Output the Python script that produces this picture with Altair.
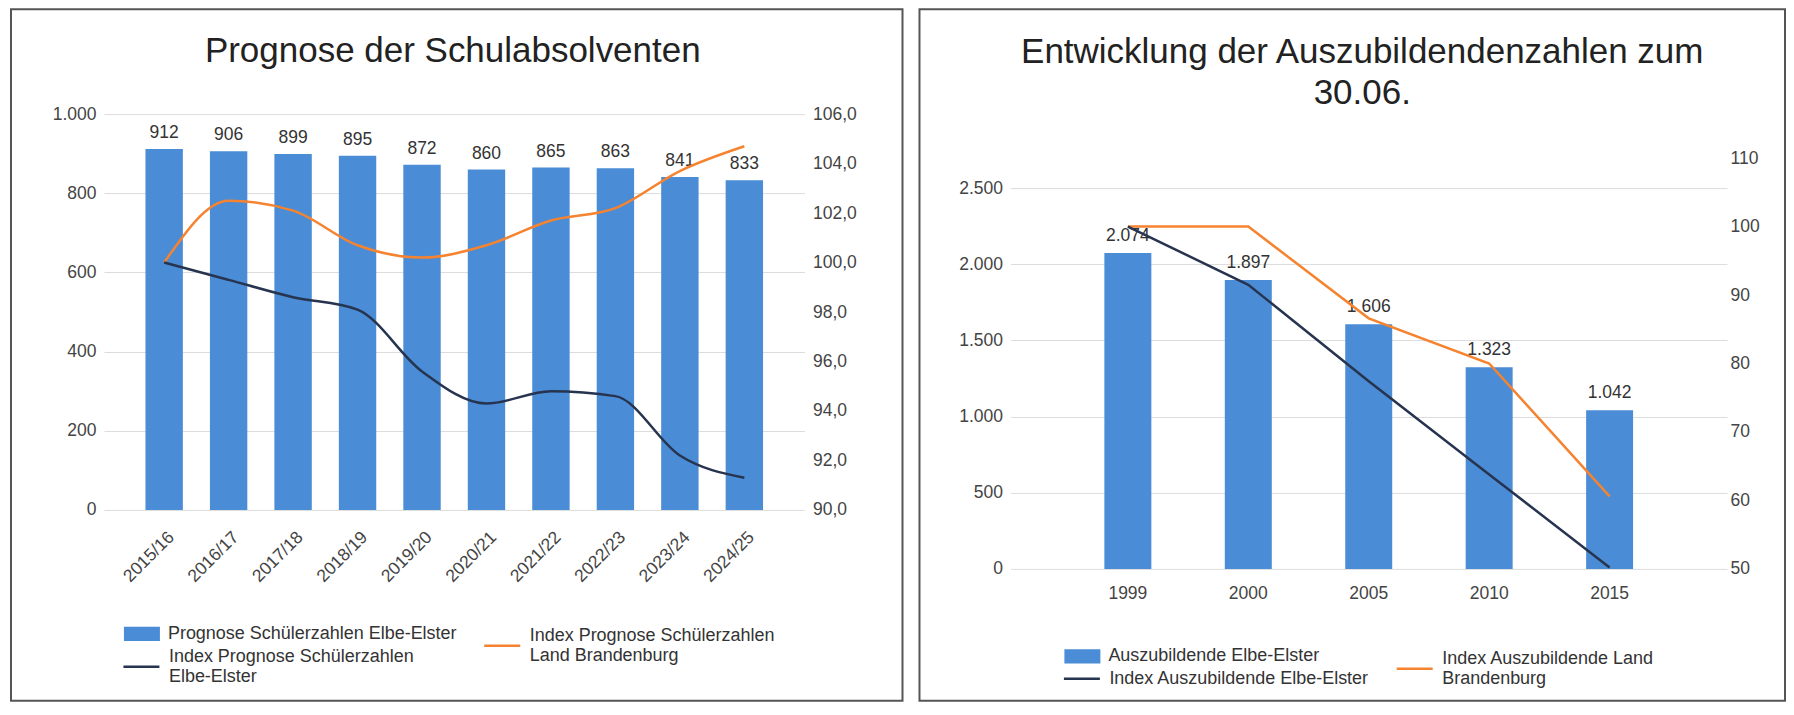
import json
import altair as alt
import pandas as pd

FONT = "Liberation Sans"

# ---------------- data: left panel ----------------
school_years = ["2015/16", "2016/17", "2017/18", "2018/19", "2019/20",
                "2020/21", "2021/22", "2022/23", "2023/24", "2024/25"]
pupils_ee = [912, 906, 899, 895, 872, 860, 865, 863, 841, 833]
index_pupils_ee = [100.0, 99.3, 98.6, 98.1, 95.6, 94.3, 94.8, 94.6, 92.2, 91.3]
index_pupils_bb = [100.0, 102.5, 102.1, 100.7, 100.2, 100.7, 101.7, 102.2, 103.7, 104.7]
left_series = ["Prognose Schülerzahlen Elbe-Elster",
               "Index Prognose Schülerzahlen Land Brandenburg",
               "Index Prognose Schülerzahlen Elbe-Elster"]
left_series_lines = [["Prognose Schülerzahlen Elbe-Elster"],
                     ["Index Prognose Schülerzahlen", "Land Brandenburg"],
                     ["Index Prognose Schülerzahlen", "Elbe-Elster"]]
left_title = "Prognose der Schulabsolventen"
left_y_ticks = [0, 200, 400, 600, 800, 1000]
left_y2_ticks = [90, 92, 94, 96, 98, 100, 102, 104, 106]

# ---------------- data: right panel ----------------
years = ["1999", "2000", "2005", "2010", "2015"]
trainees_ee = [2074, 1897, 1606, 1323, 1042]
index_trainees_ee = [100.0, 91.5, 77.4, 63.8, 50.2]
index_trainees_bb = [100.0, 100.0, 86.6, 80.0, 60.6]
right_series = ["Auszubildende Elbe-Elster",
                "Index Auszubildende Land Brandenburg",
                "Index Auszubildende Elbe-Elster"]
right_series_lines = [["Auszubildende Elbe-Elster"],
                      ["Index Auszubildende Land", "Brandenburg"],
                      ["Index Auszubildende Elbe-Elster"]]
right_title = ["Entwicklung der Auszubildendenzahlen zum", "30.06."]
right_y_ticks = [0, 500, 1000, 1500, 2000, 2500]
right_y2_ticks = [50, 60, 70, 80, 90, 100, 110]

# ---------------- style ----------------
BLUE, ORANGE, NAVY = "#4a8cd6", "#f5832f", "#27344f"
RECT_PATH = "M-1,-0.4L1,-0.4L1,0.4L-1,0.4Z"
LINE_PATH_2 = "M-1,0.556L1,0.556"   # line symbol centred on a two-line label
AXIS_COLOR = "#444444"


def q(s):
    return json.dumps(s, ensure_ascii=False)


def make_legend(name, lines, x, y, shape, stroke_width):
    kw = dict(
        orient="none", legendX=x, legendY=y, title=None, padding=0,
        labelFont=FONT, labelFontSize=18, labelColor="#333333", labelLimit=600,
        labelOffset=8, symbolSize=1296, symbolType=shape, symbolStrokeWidth=stroke_width,
    )
    if len(lines) > 1:
        kw["labelExpr"] = f"datum.label === {q(name)} ? {q(lines)} : datum.label"
    return alt.Legend(**kw)


def line_shape(lines):
    return LINE_PATH_2 if len(lines) > 1 else "stroke"


def panel(cats, bar_vals, idx_ee, idx_bb, series, series_lines, title, *,
          width, height, x_range, pad_inner, pad_outer, x_axis,
          y_domain, y_ticks, y_range, y_fmt, y_offset,
          y2_domain, y2_ticks, y2_range, y2_fmt, y2_offset, y2_pad,
          label_fmt, label_dy, legend_pos, title_dx, title_offset, interpolate):
    n = len(cats)
    bars_df = pd.DataFrame({"cat": cats, "value": bar_vals, "series": [series[0]] * n})
    bb_df = pd.DataFrame({"cat": cats, "value": idx_bb, "series": [series[1]] * n})
    ee_df = pd.DataFrame({"cat": cats, "value": idx_ee, "series": [series[2]] * n})

    (bx, by), (ox, oy), (dx_, dy_) = legend_pos
    fill = alt.Fill("series:N", scale=alt.Scale(domain=[series[0]], range=[BLUE]),
                    legend=make_legend(series[0], series_lines[0], bx, by, RECT_PATH, 0))
    stroke_bb = alt.Stroke("series:N", scale=alt.Scale(domain=[series[1]], range=[ORANGE]),
                           legend=make_legend(series[1], series_lines[1], ox, oy,
                                              line_shape(series_lines[1]), 2.5))
    color_ee = alt.Color("series:N", scale=alt.Scale(domain=[series[2]], range=[NAVY]),
                         legend=make_legend(series[2], series_lines[2], dx_, dy_,
                                            line_shape(series_lines[2]), 2.5))

    x = alt.X("cat:N", sort=list(cats), title=None,
              scale=alt.Scale(range=x_range, paddingInner=pad_inner, paddingOuter=pad_outer),
              axis=x_axis)

    y = alt.Y("value:Q", title=None,
              scale=alt.Scale(domain=y_domain, range=y_range, nice=False, zero=False),
              axis=alt.Axis(values=y_ticks, format=y_fmt, offset=y_offset, labelPadding=8,
                            domain=False, ticks=False, grid=True, gridColor="#dcdcdc", gridWidth=1,
                            labelFont=FONT, labelFontSize=17.5, labelColor=AXIS_COLOR))
    y2 = alt.Y("value:Q", title=None,
               scale=alt.Scale(domain=y2_domain, range=y2_range, nice=False, zero=False),
               axis=alt.Axis(orient="right", values=y2_ticks, format=y2_fmt, offset=y2_offset,
                             labelPadding=y2_pad, domain=False, ticks=False, grid=False,
                             labelFont=FONT, labelFontSize=17.5, labelColor=AXIS_COLOR))

    bars = alt.Chart(bars_df).mark_bar().encode(x=x, y=y, fill=fill)
    labels = alt.Chart(bars_df).mark_text(
        baseline="alphabetic", dy=label_dy, font=FONT, fontSize=17.5, color="#333333"
    ).encode(x=x, y=y, text=alt.Text("value:Q", format=label_fmt))
    line_bb = alt.Chart(bb_df).mark_line(strokeWidth=2.5, interpolate=interpolate).encode(
        x=x, y=y2, stroke=stroke_bb)
    line_ee = alt.Chart(ee_df).mark_line(strokeWidth=2.5, interpolate=interpolate).encode(
        x=x, y=y2, color=color_ee)

    bar_part = alt.layer(bars, labels)
    line_part = alt.layer(line_bb, line_ee)
    return alt.layer(bar_part, line_part).resolve_scale(y="independent").properties(
        width=width, height=height,
        title=alt.TitleParams(text=title, font=FONT, fontSize=35, fontWeight="normal",
                              color="#222222", anchor="middle", frame="group",
                              offset=title_offset, baseline="alphabetic", dx=title_dx, lineHeight=41),
    )


H = 692

left = panel(
    school_years, pupils_ee, index_pupils_ee, index_pupils_bb, left_series, left_series_lines, left_title,
    width=892, height=H, x_range=[93, 794], pad_inner=0.42, pad_outer=0.644,
    x_axis=alt.Axis(labelAngle=-45, labelAlign="right", labelBaseline="top", labelOffset=1,
                    labelPadding=18, offset=501 - H, domain=False, ticks=False, grid=False,
                    labelFont=FONT, labelFontSize=17.5, labelColor=AXIS_COLOR),
    y_domain=[0, 1000], y_ticks=left_y_ticks, y_range=[501, 105], y_fmt=",d", y_offset=-93,
    y2_domain=[90, 106], y2_ticks=left_y2_ticks, y2_range=[501, 105], y2_fmt=".1f",
    y2_offset=794 - 892, y2_pad=8,
    label_fmt=",d", label_dy=-11,
    legend_pos=[(113, 607), (472, 607.5), (111, 628.5)],
    title_dx=-4, title_offset=-88, interpolate="monotone",
)

right = panel(
    years, trainees_ee, index_trainees_ee, index_trainees_bb, right_series, right_series_lines, right_title,
    width=866, height=H, x_range=[91, 808], pad_inner=0.61, pad_outer=0.78,
    x_axis=alt.Axis(labelAngle=0, labelPadding=16, offset=560 - H, domain=False, ticks=False, grid=False,
                    labelFont=FONT, labelFontSize=17.5, labelColor=AXIS_COLOR),
    y_domain=[0, 2500], y_ticks=right_y_ticks, y_range=[560, 179], y_fmt=",d", y_offset=-91,
    y2_domain=[50, 110], y2_ticks=right_y2_ticks, y2_range=[560, 149], y2_fmt="d",
    y2_offset=808 - 866, y2_pad=3,
    label_fmt=",d", label_dy=-12,
    legend_pos=[(145, 629.5), (476, 630.5), (143, 650.5)],
    title_dx=10, title_offset=-130, interpolate="linear",
)

chart = (
    alt.hconcat(left, right, spacing=15)
    .resolve_scale(fill="independent", stroke="independent", color="independent")
    .properties(padding={"left": 2, "top": 0, "right": 0, "bottom": 0}, background="white")
    .configure(locale={"number": {"decimal": ",", "thousands": ".", "grouping": [3],
                                  "currency": ["", " €"]}})
    .configure_view(stroke="#555555", strokeWidth=2)
)

chart.save("out.html", embed_options={"renderer": "svg", "actions": False})
